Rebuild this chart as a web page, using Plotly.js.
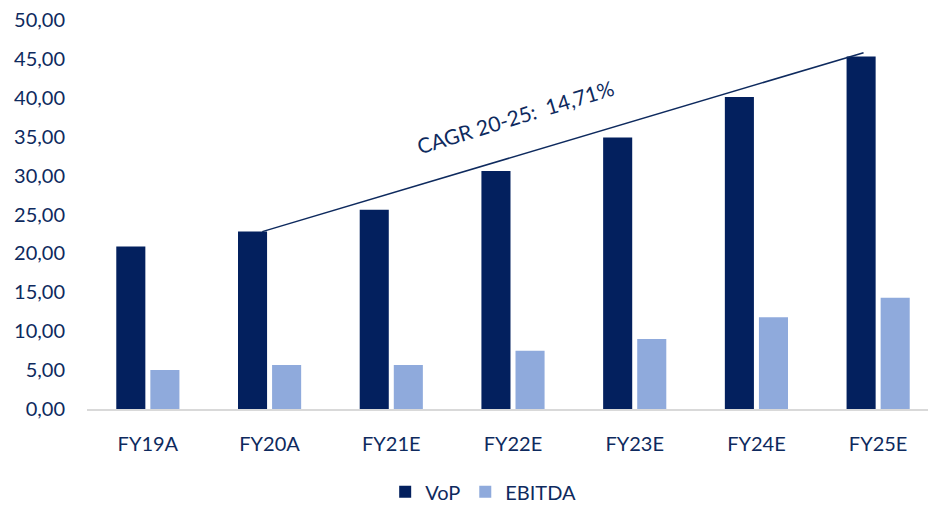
<!DOCTYPE html>
<html>
<head>
<meta charset="utf-8">
<script src="https://cdn.plot.ly/plotly-3.0.1.min.js"></script>
<style>
html, body { margin: 0; padding: 0; overflow: hidden; background: #fff; }
#chart { width: 940px; height: 512px; }
</style>
</head>
<body>
<div id="chart"></div>
<script>
const categories = ["FY19A", "FY20A", "FY21E", "FY22E", "FY23E", "FY24E", "FY25E"];
const vop = [20.9, 22.8, 25.6, 30.6, 34.9, 40.1, 45.3];
const ebitda = [5.0, 5.65, 5.65, 7.5, 9.0, 11.8, 14.3];
const seriesNames = ["VoP", "EBITDA"];
const cagrLabel = "CAGR 20-25:\u00a0\u00a014,71%";

const textColor = "#0E2A5E";
const font = "Lato, 'Open Sans', sans-serif";

const traces = [
  { type: "bar", name: seriesNames[0], x: categories, y: vop,
    marker: { color: "#03205E" }, hoverinfo: "skip" },
  { type: "bar", name: seriesNames[1], x: categories, y: ebitda,
    marker: { color: "#8FAADC" }, hoverinfo: "skip" }
];

const layout = {
  width: 940, height: 512,
  margin: { l: 87, r: 1, t: 20, b: 100 },
  paper_bgcolor: "#fff", plot_bgcolor: "#fff",
  font: { family: font, color: textColor, size: 20 },
  separators: ",.",
  barmode: "group",
  bargap: 0.44,
  bargroupgap: 0.147,
  showlegend: true,
  legend: { orientation: "h", x: 0.465, xanchor: "center", y: -0.213, yanchor: "middle",
            font: { size: 20, color: textColor }, itemwidth: 30, tracegroupgap: 0 },
  xaxis: {
    type: "category",
    showgrid: false, zeroline: false,
    showline: true, linecolor: "#D9D9D9", linewidth: 1.5,
    ticks: "", ticklabelstandoff: 16,
    tickfont: { size: 20, color: textColor }
  },
  yaxis: {
    range: [0, 50], dtick: 5, tick0: 0,
    tickformat: ".2f",
    showgrid: false, zeroline: false, showline: false,
    ticks: "", ticklabelstandoff: 21,
    tickfont: { size: 20, color: textColor }
  },
  shapes: [
    { type: "line", xref: "x", yref: "y",
      x0: 1 - 0.06, y0: vop[1], x1: categories.length - 1 - 0.12, y1: vop[vop.length - 1] + 0.5,
      line: { color: "#0E2A5E", width: 1.5 } }
  ],
  annotations: [
    { xref: "x", yref: "y", x: 3.02, y: 37.6, text: cagrLabel, showarrow: false,
      textangle: -17, font: { size: 21, color: textColor } }
  ]
};

Plotly.newPlot("chart", traces, layout, { staticPlot: true, displayModeBar: false });
</script>
</body>
</html>
